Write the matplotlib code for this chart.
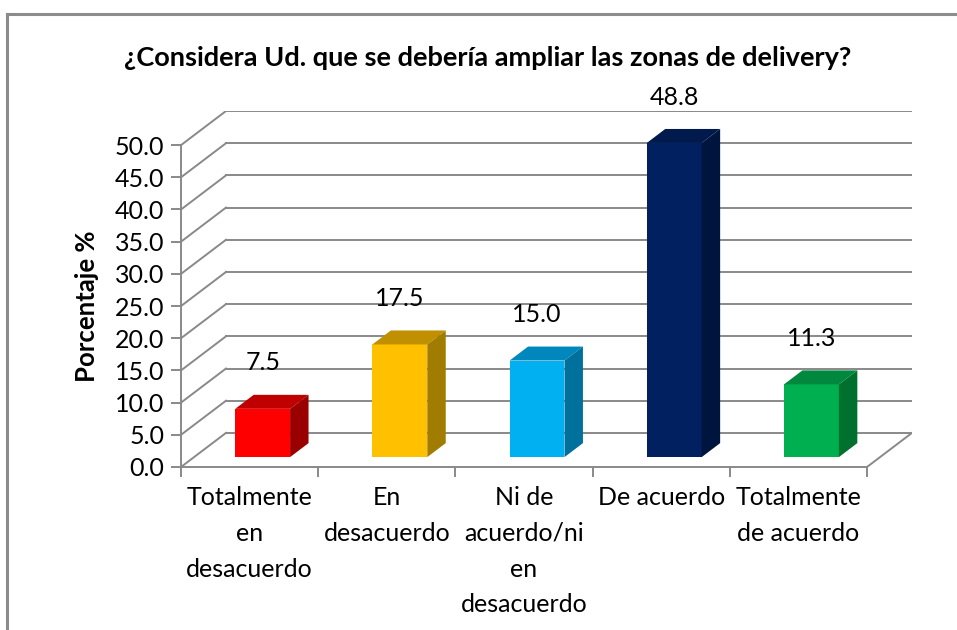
import matplotlib
matplotlib.use("Agg")
import matplotlib.pyplot as plt
from matplotlib.patches import Polygon
from matplotlib.lines import Line2D

categories = ["Totalmente\nen\ndesacuerdo", "En\ndesacuerdo", "Ni de\nacuerdo/ni\nen\ndesacuerdo",
              "De acuerdo", "Totalmente\nde acuerdo"]
values = [7.5, 17.5, 15.0, 48.8, 11.3]
value_labels = ["7.5", "17.5", "15.0", "48.8", "11.3"]
yticks = [0, 5, 10, 15, 20, 25, 30, 35, 40, 45, 50]
ytick_labels = ["0.0", "5.0", "10.0", "15.0", "20.0", "25.0", "30.0", "35.0", "40.0", "45.0", "50.0"]
title = "¿Considera Ud. que se debería ampliar las zonas de delivery?"
ylabel = "Porcentaje %"

front_colors = ["#FF0000", "#FFC000", "#00B0F0", "#002060", "#00B050"]
top_colors = ["#C00000", "#C09000", "#0088BC", "#001A4E", "#00883E"]
side_colors = ["#9A0000", "#A07C00", "#00709C", "#00153E", "#00702F"]

plt.rcParams['font.family'] = ['Lato', 'DejaVu Sans']

W, H = 957, 630
fig = plt.figure(figsize=(W / 100, H / 100), dpi=100)

# depth offsets in data units
DX = 0.328   # categories
DY = 5.3     # value units
ymax = 50
n = len(values)

ax = fig.add_axes([181 / W, (H - 467) / H, (912 - 181) / W, (467 - 111) / H])
ax.set_xlim(0, n + DX)
ax.set_ylim(0, ymax + DY)
ax.patch.set_visible(False)

grid_c = "#898989"
lw = 1.4
for v in yticks:
    ax.add_line(Line2D([DX, n + DX], [v + DY, v + DY], color=grid_c, lw=lw, zorder=1))
    ax.add_line(Line2D([0, DX], [v, v + DY], color=grid_c, lw=lw, zorder=1))
ax.add_line(Line2D([n, n + DX], [0, DY], color=grid_c, lw=lw, zorder=1))

for s in ["top", "right"]:
    ax.spines[s].set_visible(False)
ax.spines["left"].set_bounds(0, ymax)
ax.spines["bottom"].set_bounds(0, n)
for s in ["left", "bottom"]:
    ax.spines[s].set_color(grid_c)
    ax.spines[s].set_linewidth(lw)
ax.set_yticks(yticks)
ax.set_yticklabels(ytick_labels, fontsize=18)
ax.set_xticks(range(n + 1))
ax.set_xticklabels([""] * (n + 1))
ax.set_xticks([i + 0.5 for i in range(n)], minor=True)
ax.set_xticklabels(categories, minor=True, fontsize=18, linespacing=1.66, va="top")
ax.tick_params(axis="y", direction="out", length=7, width=lw, color=grid_c, pad=5)
ax.tick_params(axis="x", which="major", direction="out", length=7, width=lw, color=grid_c)
ax.tick_params(axis="x", which="minor", length=0, pad=14)

f0 = 0.29
f1 = 0.70
bw = 0.40
fx, fy = f0 * DX, f0 * DY
bx, by = (f1 - f0) * DX, (f1 - f0) * DY
xs = [i + 0.5 - bw / 2 + fx for i in range(n)]
ax.bar(xs, values, width=bw, bottom=fy, align="edge", color=front_colors, zorder=3)
for i, v in enumerate(values):
    x0 = xs[i]
    x1 = x0 + bw
    top = v + fy
    ax.add_patch(Polygon([(x0, top), (x1, top), (x1 + bx, top + by), (x0 + bx, top + by)],
                         closed=True, facecolor=top_colors[i], edgecolor="none", zorder=3))
    ax.add_patch(Polygon([(x1, fy), (x1 + bx, fy + by), (x1 + bx, top + by), (x1, top)],
                         closed=True, facecolor=side_colors[i], edgecolor="none", zorder=3))
    ax.annotate(value_labels[i], (x0 + bw / 2, top), xytext=(0, 33), textcoords="offset points",
                ha="center", va="center", fontsize=18, zorder=4)

fig.text(488 / W, 1 - 58 / H, title, ha="center", va="center", fontsize=19.5, fontweight="bold")
fig.text(87 / W, 1 - 306 / H, ylabel, ha="center", va="center", rotation=90, fontsize=18.5,
         fontweight="bold")

fig.add_artist(Line2D([7 / W, 7 / W], [0, 1 - 14 / H], color="#8c8c8c", lw=2.2,
                      transform=fig.transFigure))
fig.add_artist(Line2D([7 / W, 1], [1 - 14 / H, 1 - 14 / H], color="#8c8c8c", lw=2.2,
                      transform=fig.transFigure))

fig.savefig("out.png", dpi=100)
